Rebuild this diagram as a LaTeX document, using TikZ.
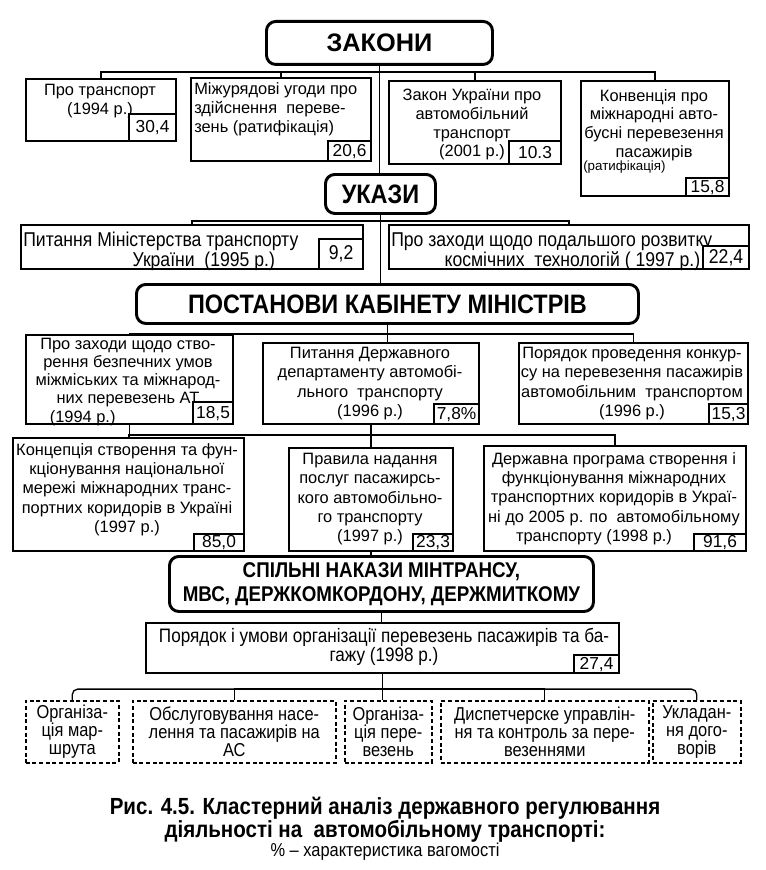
\documentclass[tikz,border=0pt]{standalone}
\usepackage{fontspec}
\setmainfont{Liberation Sans}
\newfontfamily\narrowfont[FakeStretch=0.88]{Liberation Sans}
\usetikzlibrary{calc}

\begin{document}
\begin{tikzpicture}[
  x=0.75pt, y=-0.75pt,
  boxsize/.style 2 args={minimum width=#1*0.75pt, minimum height=#2*0.75pt},
  headbox/.style={
    draw, line width=2.2pt, rounded corners=7pt,
    anchor=north west, inner sep=0pt, align=center,
    font=\narrowfont\bfseries\fontsize{20}{22}\selectfont
  },
  box/.style={draw, line width=1.6pt, anchor=north west, inner sep=0pt},
  valbox/.style={
    draw, fill=white, line width=1.6pt, anchor=south east, inner sep=0pt,
    font=\fontsize{13}{13}\selectfont
  },
  txt/.style={inner sep=0pt, align=center, anchor=north, font=\fontsize{12.3}{14.5}\selectfont},
  narrowtxt/.style={inner sep=0pt, align=left, anchor=north west,
    font=\narrowfont\fontsize{15}{13.5}\selectfont},
  dashbox/.style={
    draw, line width=1.2pt, dash pattern=on 3pt off 2pt,
    anchor=north west, inner sep=0pt, align=center,
    font=\narrowfont\fontsize{14}{13.5}\selectfont
  },
  link/.style={line width=1pt}
]
\useasboundingbox (0,0) rectangle (766,870);

% Laws
\node[headbox, boxsize={226}{43}, font=\bfseries\fontsize{19}{22}\selectfont] (zakony) at (265,20) {ЗАКОНИ};

\node[box, boxsize={150}{62}] (transport) at (25,78) {};
\node[txt] (transport-t) at (100,84) {Про транспорт\\(1994 р.)};
\node[valbox, boxsize={47}{27}] (transport-v) at (transport.south east) {30,4};

\node[box, boxsize={180}{83}] (agreement) at (190,77) {};
\node[txt, align=left, anchor=north west] (agreement-t) at (194,82)
  {Міжурядові угоди про\\здійснення\ \ переве-\\зень (ратифікація)};
\node[valbox, boxsize={43}{20}] (agreement-v) at (agreement.south east) {20,6};

\node[box, boxsize={172}{83}] (lawua) at (388,80) {};
\node[txt, font=\fontsize{12.3}{14}\selectfont] (lawua-t) at (472,89)
  {Закон України про\\автомобільний\\транспорт\\(2001 р.)};
\node[valbox, boxsize={52}{23}] (lawua-v) at (lawua.south east) {10.3};

\node[box, boxsize={148}{115}] (convention) at (580,80) {};
\node[txt, font=\fontsize{12.3}{14}\selectfont] (convention-t) at (654,89)
  {Конвенція про\\міжнародні авто-\\бусні перевезення\\пасажирів};
\node[anchor=west, inner sep=0pt, font=\fontsize{10}{10}\selectfont] (convention-r) at (583,167) {(ратифікація)};
\node[valbox, boxsize={43}{18}] (convention-v) at (convention.south east) {15,8};

\coordinate (bus1) at ($(zakony.south)+(0,6)$);
\draw[link] (transport.north) |- (bus1) -| (convention.north);
\draw[link] (agreement.north) |- (bus1);
\draw[link] (lawua.north) |- (bus1);

% Decrees
\node[headbox, boxsize={110}{39}] (ukazy) at (324,173) {УКАЗИ};
\draw[link] (zakony.south) -- (zakony.south |- ukazy.north);

\node[box, boxsize={342}{44}] (ministry) at (20,224) {};
\node[narrowtxt] (ministry-t) at (23,232)
  {Питання Міністерства транспорту\\\hspace*{82pt}України\ \ (1995 р.)};
\node[valbox, boxsize={44}{30}, font=\narrowfont\fontsize{15}{15}\selectfont] (ministry-v) at (ministry.south east) {9,2};

\node[box, boxsize={360}{44}] (space) at (388,224) {};
\node[narrowtxt] (space-t) at (391,232)
  {Про заходи щодо подальшого розвитку\\\hspace*{40pt}космічних\ \ технологій ( 1997 р.)};
\node[valbox, boxsize={46}{23}, font=\narrowfont\fontsize{15}{15}\selectfont] (space-v) at (space.south east) {22,4};

\coordinate (bus2) at ($(ukazy.south)+(0,6)$);
\draw[link] (ministry.north) |- (bus2) -| (space.north);

% Cabinet resolutions
\node[headbox, boxsize={502}{39}] (postanovy) at (135,283) {ПОСТАНОВИ КАБІНЕТУ МІНІСТРІВ};
\draw[link] (ukazy.south) -- (ukazy.south |- postanovy.north);

\node[box, boxsize={207}{89}] (safety) at (25,334) {};
\node[txt, font=\fontsize{12.3}{13.6}\selectfont] (safety-t) at (128,338)
  {Про заходи щодо ство-\\рення безпечних умов\\міжміських та міжнарод-\\них перевезень АТ\\(1994 р.)\hspace*{68pt}};
\node[valbox, boxsize={40}{22}] (safety-v) at (safety.south east) {18,5};

\node[box, boxsize={216}{81}] (decree) at (262,342) {};
\node[txt] (decree-t) at (370,347)
  {Питання Державного\\департаменту автомобі-\\льного\ \ транспорту\\(1996 р.)};
\node[valbox, boxsize={45}{20}] (decree-v) at (decree.south east) {7,8\%};

\node[box, boxsize={229}{81}] (contest) at (518,342) {};
\node[txt] (contest-t) at (632,347)
  {Порядок проведення конкур-\\су на перевезення пасажирів\\автомобільним\ \ транспортом\\(1996 р.)};
\node[valbox, boxsize={39}{20}] (contest-v) at (contest.south east) {15,3};

\coordinate (bus3) at ($(postanovy.south)+(0,9)$);
\draw[link] (safety.north) |- (bus3) -| (contest.north);
\draw[link] (postanovy.south) -- (postanovy.south |- decree.north);

\node[box, boxsize={231}{113}] (concept) at (12,437) {};
\node[txt] (concept-t) at (127,443)
  {Концепція створення та фун-\\кціонування національної\\мережі міжнародних транс-\\портних коридорів в Україні\\(1997 р.)};
\node[valbox, boxsize={50}{17}] (concept-v) at (concept.south east) {85,0};

\node[box, boxsize={164}{103}] (rules) at (288,447) {};
\node[txt] (rules-t) at (370,453)
  {Правила надання\\послуг пасажирсь-\\кого автомобільно-\\го транспорту\\(1997 р.)};
\node[valbox, boxsize={40}{17}] (rules-v) at (rules.south east) {23,3};

\node[box, boxsize={262}{105}] (program) at (483,445) {};
\node[txt] (program-t) at (614,452)
  {Державна програма створення і\\функціонування міжнародних\\транспортних коридорів в Украї-\\ні до 2005 р. по\ \ автомобільному\\транспорту (1998 р.)\hspace*{30pt}};
\node[valbox, boxsize={52}{17}] (program-v) at (program.south east) {91,6};

\coordinate (bus4) at ($(decree.south)+(0,10)$);
\draw[link] (concept.north) |- (bus4) -| (program.north);
\draw[link] (safety.south) -- (safety.south |- concept.north);
\draw[link] (decree.south) -- (rules.north);

% Joint orders
\node[headbox, boxsize={424}{55}, font=\narrowfont\bfseries\fontsize{16}{18}\selectfont] (joint) at (168,555)
  {СПІЛЬНІ НАКАЗИ МІНТРАНСУ,\\МВС, ДЕРЖКОМКОРДОНУ, ДЕРЖМИТКОМУ};
\draw[link] (rules.south) -- (rules.south |- joint.north);

\node[box, boxsize={473}{50}] (order) at (145,622) {};
\node[txt, font=\narrowfont\fontsize{14.6}{14}\selectfont] (order-t) at (384,628)
  {Порядок і умови організації перевезень пасажирів та ба-\\гажу (1998 р.)};
\node[valbox, boxsize={45}{18}] (order-v) at (order.south east) {27,4};
\draw[link] (joint.south) -- (joint.south |- order.north);

\node[dashbox, boxsize={93}{62}] (route) at (25,700) {Організа-\\ція мар-\\шрута};
\node[dashbox, boxsize={203}{62}] (service) at (132,700) {Обслуговування насе-\\лення та пасажирів на\\АС};
\node[dashbox, boxsize={87}{62}] (carriage) at (344,700) {Організа-\\ція пере-\\везень};
\node[dashbox, boxsize={208}{62}] (dispatch) at (440,700) {Диспетчерске управлін-\\ня та контроль за пере-\\везеннями};
\node[dashbox, boxsize={88}{62}] (contract) at (652,700) {Укладан-\\ня дого-\\ворів};

\coordinate (bus5) at ($(order.south)+(0,15)$);
\draw[link, rounded corners=4pt] (route.north) |- (bus5) -| (contract.north);
\draw[link] (service.north) |- (bus5);
\draw[link] (dispatch.north) |- (bus5);
\draw[link] (order.south) -- (order.south |- carriage.north);

% Caption
\node[inner sep=0pt, anchor=north, align=center, font=\narrowfont\bfseries\fontsize{17.5}{17}\selectfont] (caption) at (385,797)
  {Рис. 4.5. Кластерний аналіз державного регулювання\\діяльності на\ \ автомобільному транспорті:};
\node[inner sep=0pt, anchor=north, font=\narrowfont\fontsize{14}{14}\selectfont] (caption-note) at (385,843)
  {\% – характеристика вагомості};

\end{tikzpicture}
\end{document}
